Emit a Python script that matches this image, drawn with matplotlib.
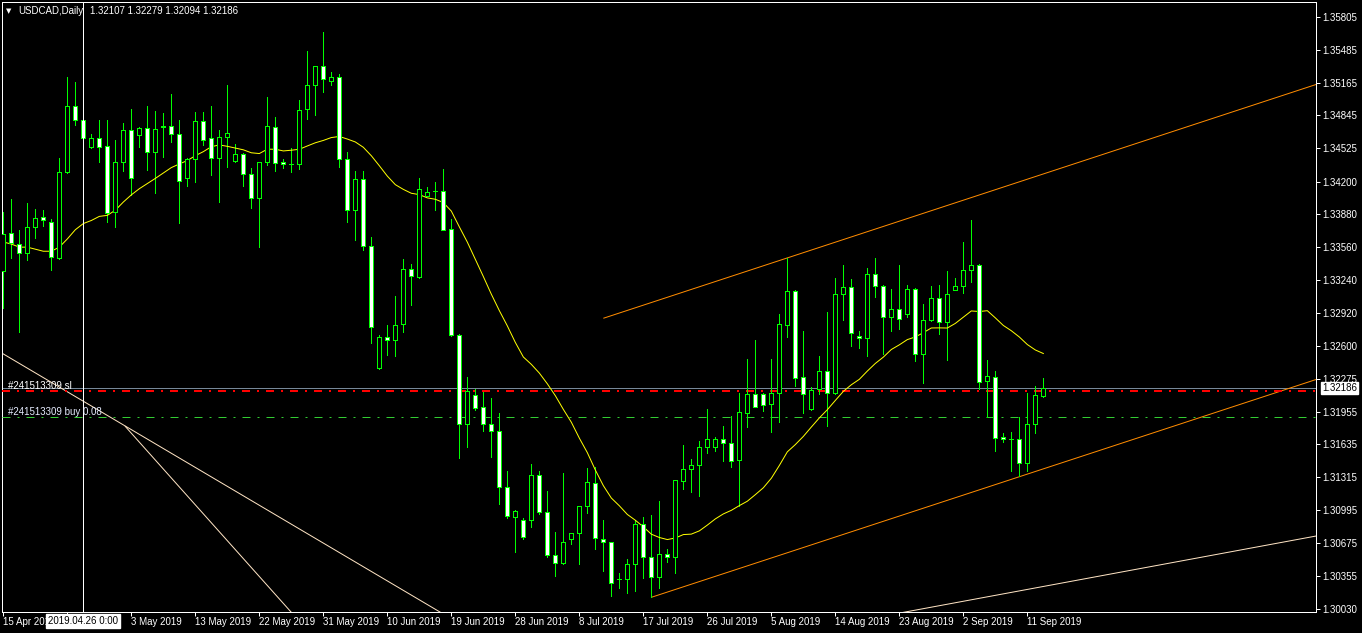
import numpy as np
import pandas as pd
import matplotlib
matplotlib.use("Agg")
import matplotlib.pyplot as plt
from matplotlib.transforms import blended_transform_factory

plt.rcParams['font.family'] = ['Liberation Sans', 'DejaVu Sans']
plt.rcParams['lines.scale_dashes'] = False

# ---------------- data ----------------
symbol = "USDCAD,Daily"
start_date = "2019-04-15"
end_date = "2019-09-13"

opens = [1.3333, 1.3370, 1.3359, 1.3350, 1.3376, 1.3385, 1.3381, 1.3345, 1.3429, 1.3494,
         1.3480, 1.3454, 1.3462, 1.3455, 1.3390, 1.3439, 1.3470, 1.3465, 1.3472, 1.3449,
         1.3473, 1.3474, 1.3466, 1.3423, 1.3442, 1.3479, 1.3462, 1.3443, 1.3463, 1.3440,
         1.3447, 1.3427, 1.3404, 1.3439, 1.3473, 1.3439, 1.3437, 1.3437, 1.3491, 1.3514,
         1.3533, 1.3518, 1.3522, 1.3442, 1.3392, 1.3422, 1.3357, 1.3238, 1.3268, 1.3265,
         1.3281, 1.3335, 1.3327, 1.3406, 1.3411, 1.3411, 1.3374, 1.3270, 1.3183, 1.3212,
         1.3200, 1.3183, 1.3177, 1.3122, 1.3093, 1.3090, 1.3090, 1.3134, 1.3098, 1.3056,
         1.3048, 1.3071, 1.3077, 1.3103, 1.3126, 1.3071, 1.3068, 1.3032, 1.3032, 1.3047,
         1.3086, 1.3054, 1.3034, 1.3057, 1.3054, 1.3128, 1.3140, 1.3143, 1.3161, 1.3161,
         1.3169, 1.3165, 1.3148, 1.3194, 1.3213, 1.3213, 1.3203, 1.3214, 1.3280, 1.3313,
         1.3229, 1.3198, 1.3218, 1.3235, 1.3214, 1.3310, 1.3317, 1.3269, 1.3267, 1.3330,
         1.3318, 1.3288, 1.3296, 1.3291, 1.3315, 1.3252, 1.3285, 1.3306, 1.3283, 1.3314,
         1.3318, 1.3334, 1.3339, 1.3225, 1.3229, 1.3171, 1.3169, 1.3169, 1.3145, 1.3183,
         1.32107]
highs = [1.3390, 1.3403, 1.3373, 1.3399, 1.3393, 1.3392, 1.3383, 1.3443, 1.3522, 1.3517,
         1.3499, 1.3466, 1.3480, 1.3480, 1.3461, 1.3477, 1.3491, 1.3473, 1.3494, 1.3489,
         1.3487, 1.3505, 1.3480, 1.3443, 1.3488, 1.3488, 1.3494, 1.3470, 1.3514, 1.3457,
         1.3448, 1.3433, 1.3439, 1.3502, 1.3483, 1.3442, 1.3453, 1.3500, 1.3547, 1.3533,
         1.3566, 1.3527, 1.3525, 1.3449, 1.3430, 1.3430, 1.3366, 1.3270, 1.3280, 1.3308,
         1.3344, 1.3340, 1.3423, 1.3415, 1.3420, 1.3432, 1.3383, 1.3271, 1.3229, 1.3218,
         1.3215, 1.3209, 1.3194, 1.3138, 1.3100, 1.3092, 1.3144, 1.3138, 1.3118, 1.3078,
         1.3136, 1.3077, 1.3103, 1.3141, 1.3142, 1.3090, 1.3068, 1.3038, 1.3052, 1.3090,
         1.3093, 1.3095, 1.3108, 1.3062, 1.3129, 1.3163, 1.3149, 1.3167, 1.3198, 1.3171,
         1.3182, 1.3191, 1.3214, 1.3247, 1.3265, 1.3214, 1.3247, 1.3291, 1.3345, 1.3314,
         1.3274, 1.3220, 1.3250, 1.3293, 1.3326, 1.3339, 1.3325, 1.3274, 1.3336, 1.3345,
         1.3319, 1.3315, 1.3339, 1.3319, 1.3316, 1.3301, 1.3318, 1.3319, 1.3333, 1.3326,
         1.3361, 1.3382, 1.3340, 1.3246, 1.3235, 1.3175, 1.3176, 1.3190, 1.3214, 1.3221,
         1.32279]
lows = [1.3297, 1.3345, 1.3273, 1.3343, 1.3365, 1.3377, 1.3334, 1.3344, 1.3428, 1.3475,
        1.3451, 1.3453, 1.3439, 1.3381, 1.3376, 1.3430, 1.3407, 1.3454, 1.3431, 1.3409,
        1.3444, 1.3459, 1.3380, 1.3416, 1.3420, 1.3456, 1.3426, 1.3400, 1.3434, 1.3439,
        1.3416, 1.3394, 1.3356, 1.3436, 1.3430, 1.3433, 1.3429, 1.3432, 1.3481, 1.3485,
        1.3507, 1.3514, 1.3434, 1.3381, 1.3363, 1.3353, 1.3262, 1.3237, 1.3251, 1.3250,
        1.3273, 1.3300, 1.3326, 1.3406, 1.3392, 1.3373, 1.3269, 1.3150, 1.3161, 1.3197,
        1.3177, 1.3151, 1.3105, 1.3092, 1.3059, 1.3071, 1.3083, 1.3096, 1.3054, 1.3035,
        1.3047, 1.3066, 1.3047, 1.3097, 1.3062, 1.3040, 1.3016, 1.3023, 1.3019, 1.3021,
        1.3033, 1.3015, 1.3023, 1.3049, 1.3038, 1.3120, 1.3117, 1.3113, 1.3155, 1.3157,
        1.3147, 1.3142, 1.3103, 1.3181, 1.3200, 1.3196, 1.3176, 1.3185, 1.3268, 1.3221,
        1.3194, 1.3197, 1.3213, 1.3182, 1.3213, 1.3285, 1.3260, 1.3258, 1.3250, 1.3307,
        1.3252, 1.3274, 1.3276, 1.3288, 1.3245, 1.3223, 1.3284, 1.3271, 1.3246, 1.3314,
        1.3311, 1.3322, 1.3218, 1.3190, 1.3157, 1.3166, 1.3138, 1.3133, 1.3138, 1.3175,
        1.32094]
closes = [1.3369, 1.3360, 1.3350, 1.3376, 1.3384, 1.3382, 1.3346, 1.3429, 1.3494, 1.3480,
          1.3462, 1.3462, 1.3454, 1.3389, 1.3439, 1.3470, 1.3423, 1.3472, 1.3449, 1.3471,
          1.3474, 1.3466, 1.3421, 1.3442, 1.3479, 1.3461, 1.3443, 1.3463, 1.3467, 1.3447,
          1.3427, 1.3404, 1.3439, 1.3474, 1.3438, 1.3437, 1.3437, 1.3490, 1.3514, 1.3533,
          1.3520, 1.3522, 1.3442, 1.3392, 1.3422, 1.3357, 1.3278, 1.3268, 1.3265, 1.3280,
          1.3335, 1.3328, 1.3413, 1.3410, 1.3411, 1.3373, 1.3270, 1.3183, 1.3216, 1.3199,
          1.3183, 1.3177, 1.3122, 1.3094, 1.3099, 1.3073, 1.3134, 1.3098, 1.3056, 1.3048,
          1.3068, 1.3077, 1.3103, 1.3127, 1.3072, 1.3068, 1.3028, 1.3032, 1.3047, 1.3086,
          1.3054, 1.3034, 1.3057, 1.3054, 1.3129, 1.3140, 1.3143, 1.3161, 1.3169, 1.3169,
          1.3165, 1.3147, 1.3195, 1.3213, 1.3200, 1.3202, 1.3214, 1.3281, 1.3313, 1.3228,
          1.3213, 1.3217, 1.3235, 1.3214, 1.3310, 1.3317, 1.3272, 1.3267, 1.3330, 1.3318,
          1.3288, 1.3296, 1.3286, 1.3315, 1.3252, 1.3285, 1.3306, 1.3283, 1.3310, 1.3318,
          1.3334, 1.3339, 1.3224, 1.3230, 1.3170, 1.3169, 1.3169, 1.3145, 1.3183, 1.3212,
          1.32186]

ma_period = 20
# moving-average values for the first bars (history before the window)
ma_head = [1.3361, 1.3359, 1.3356, 1.3356, 1.3354, 1.3352, 1.3352, 1.3356, 1.3364, 1.3373,
           1.3379, 1.3382, 1.3386, 1.3387, 1.3392, 1.3400, 1.3407, 1.3413, 1.3418]

price_ticks = [1.35805, 1.35485, 1.35165, 1.34845, 1.34525, 1.34200, 1.33880, 1.33560,
               1.33240, 1.32920, 1.32600, 1.32275, 1.31955, 1.31635, 1.31315, 1.30995,
               1.30675, 1.30355, 1.30030]

bid_price = 1.32186
sl_price = 1.32157
buy_price = 1.31903
order_label_sl = "#241513309 sl"
order_label_buy = "#241513309 buy 0.08"
header_values = "1.32107 1.32279 1.32094 1.32186"
crosshair_label = "2019.04.26 0:00"
crosshair_bar = 10
date_label_step = 8
hidden_label_bars = [8]

# trend objects: (bar anchors, price anchors)
upper_trend = ([75, 130], [1.32866, 1.34274])
lower_trend = ([81, 130], [1.30144, 1.31397])
pale_line_a = ([-1, 56], [1.32564, 1.29935])
pale_line_b = ([15.2, 37], [1.31815, 1.29910])
pale_line_c = ([112, 165], [1.29990, 1.30755])

# ---------------- figure ----------------
W, H = 1362, 633
fig = plt.figure(figsize=(W / 100, H / 100), dpi=100, facecolor='black')
left_px, right_px, top_px, bot_px = 2, 1316, 2, 612
ax = fig.add_axes([left_px / W, 1 - bot_px / H, (right_px - left_px) / W, (bot_px - top_px) / H])
ax.set_facecolor('black')

n = len(closes)
x = np.arange(n)
bar_px = 8.0
x0_px = 3.33
ax.set_xlim((left_px - x0_px) / bar_px, (right_px - x0_px) / bar_px)
px_per_price = 10251.0
p_at_609 = 1.30030
ax.set_ylim(p_at_609 - (bot_px - 609) / px_per_price, p_at_609 + (609 - top_px) / px_per_price)

PX = 0.72  # one pixel in points

o = np.array(opens); c = np.array(closes); hi = np.array(highs); lo = np.array(lows)

# trendlines
def draw_line(anchor, color, ray=False):
    bx, py = anchor
    slope = (py[1] - py[0]) / (bx[1] - bx[0])
    xe = bx[1]
    if ray:
        xe = ax.get_xlim()[1] + 1
    xs = np.array([bx[0], xe])
    ax.plot(xs, py[0] + slope * (xs - bx[0]), color=color, lw=PX, zorder=2, solid_capstyle='butt')

pale = '#FFE4C4'
draw_line(pale_line_a, pale)
draw_line(pale_line_b, pale)
draw_line(pale_line_c, pale)
draw_line(upper_trend, '#FF8C00', ray=True)
draw_line(lower_trend, '#FF8C00', ray=True)

# horizontal order / bid lines
ax.axhline(bid_price, color='#778899', lw=PX, zorder=1)
ax.axhline(sl_price, color='#FF0000', lw=2 * PX, zorder=3, dashes=[8 * PX, 7 * PX, 2 * PX, 7 * PX])
ax.axhline(buy_price, color='#32CD32', lw=PX, zorder=3, dashes=[8 * PX, 7 * PX, 2 * PX, 7 * PX])

# crosshair vertical line
ax.axvline(crosshair_bar, color='white', lw=PX, zorder=6)

# candles
ax.vlines(x, lo, hi, color='#00FF00', lw=PX, zorder=4, antialiased=False)
body_bottom = np.minimum(o, c)
body_h = np.abs(c - o)
fills = ['black' if cc >= oo else 'white' for oo, cc in zip(o, c)]
ax.bar(x, body_h, bottom=body_bottom, width=0.5, color=fills, edgecolor='#00FF00',
       linewidth=PX, zorder=5, antialiased=False)

# moving average
ma = pd.Series(closes).rolling(ma_period).mean().to_numpy()
ma[:len(ma_head)] = ma_head
ax.plot(x, ma, color='#FFFF00', lw=PX, zorder=4.5)

# axes styling
for s in ax.spines.values():
    s.set_color('white')
    s.set_linewidth(PX)
ax.yaxis.tick_right()
ax.set_yticks(price_ticks)
ax.set_yticklabels([f"{p:.5f}" for p in price_ticks])
ax.tick_params(axis='y', colors='white', length=4 * PX, width=PX, pad=2 * PX, labelsize=7)

dates = pd.date_range(start_date, end_date, freq='D')
dates = dates[dates.dayofweek != 5]
tick_bars = list(range(0, n, date_label_step))
ax.set_xticks(tick_bars)
labels = []
for b in tick_bars:
    d = dates[b]
    labels.append('' if b in hidden_label_bars else f"{d.day} {d.strftime('%b %Y')}")
ax.set_xticklabels(labels, ha='left')
ax.tick_params(axis='x', colors='white', length=4 * PX, width=PX, pad=1 * PX, labelsize=7)
for lab in ax.get_xticklabels():
    lab.set_horizontalalignment('left')

# bid price box
ty = blended_transform_factory(ax.transAxes, ax.transData)
ax.text((1322 - left_px) / (right_px - left_px), bid_price, f"{bid_price:.5f}", transform=ty,
        color='black', fontsize=7, va='center', ha='left', clip_on=False, zorder=10,
        bbox=dict(boxstyle='square,pad=0.15', fc='white', ec='white'))

# crosshair date box
tx = blended_transform_factory(ax.transData, fig.transFigure)
fig.text(0, 0, '')
ax.text(crosshair_bar, 1 - 621 / H, crosshair_label, transform=tx, color='black', fontsize=7,
        va='center', ha='center', clip_on=False, zorder=10,
        bbox=dict(boxstyle='square,pad=0.2', fc='white', ec='white'))

# order labels
ax.text((8 - left_px) / (right_px - left_px), sl_price, order_label_sl, transform=ty, color='white',
        fontsize=7, va='bottom', ha='left', zorder=7)
ax.text((8 - left_px) / (right_px - left_px), buy_price, order_label_buy, transform=ty, color='#E6ECFF',
        fontsize=7, va='bottom', ha='left', zorder=7)

# header
fig.text(6 / W, 1 - 11 / H, '\u25BC', color='white', fontsize=5, va='center', ha='left',
         family='DejaVu Sans')
fig.text(18 / W, 1 - 11 / H, symbol, color='white', fontsize=7, va='center', ha='left')
fig.text(90 / W, 1 - 11 / H, header_values, color='white', fontsize=7, va='center', ha='left')

fig.savefig('out.png', dpi=100, facecolor='black')
